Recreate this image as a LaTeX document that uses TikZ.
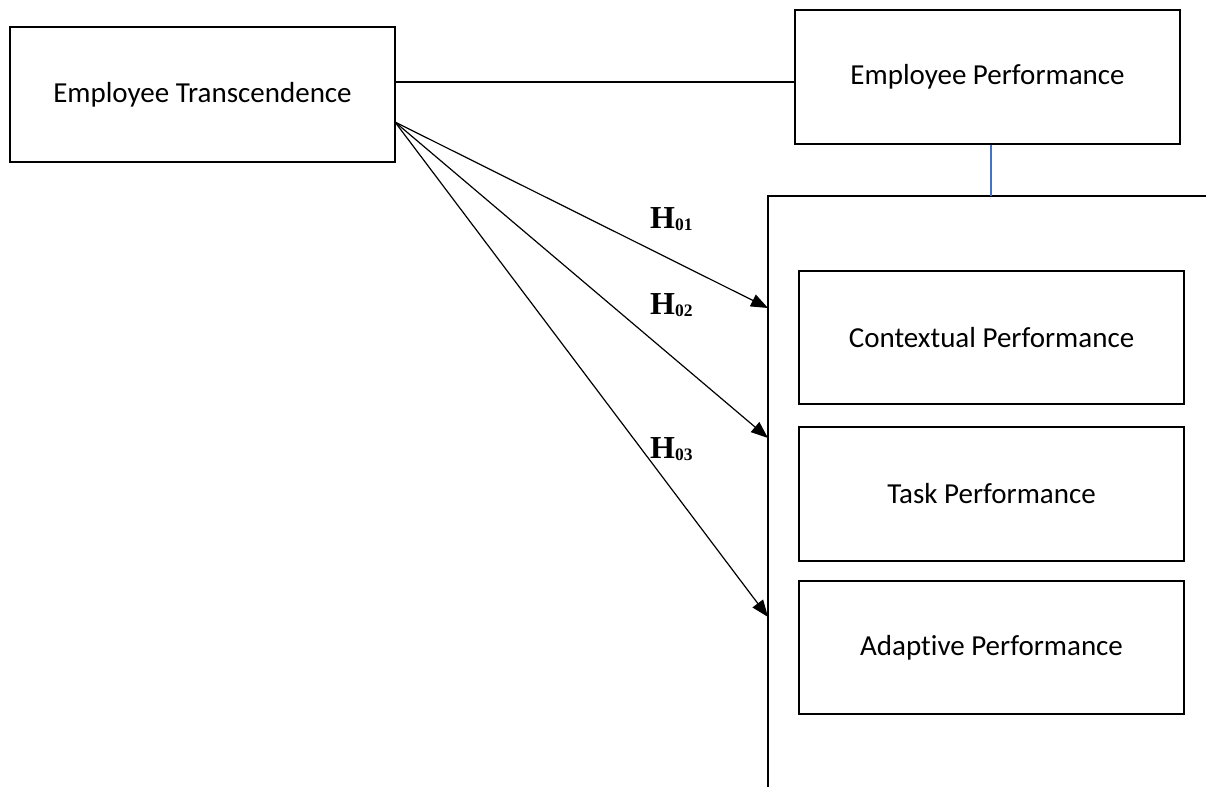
\documentclass[tikz,border=0pt]{standalone}
\usepackage{fontspec}
\setmainfont{Carlito}[Ligatures=NoCommon]
\newfontfamily\hfont{Liberation Serif}
\usetikzlibrary{arrows.meta}
\definecolor{linkblue}{HTML}{4472C4}
\begin{document}
\begin{tikzpicture}[x=1pt,y=-1pt,
  boxnode/.style={draw=black,line width=1.8pt,rectangle,inner sep=0pt,minimum width=385pt,
    font=\fontsize{29}{34}\selectfont},
  conn/.style={draw=black,line width=1.2pt},
  arr/.style={conn,-{Triangle[length=17pt,width=13pt]}},
  hlab/.style={anchor=base west,inner sep=0pt}
]
\useasboundingbox (0,0) rectangle (1206,787);
\node[boxnode,minimum height=135pt] (et) at (202.5,94.5) {Employee Transcendence};
\node[boxnode,minimum height=134pt] (ep) at (987.5,77) {Employee Performance};
\node[boxnode,minimum height=133pt] (cp) at (991.5,337.5) {Contextual Performance};
\node[boxnode,minimum height=134pt] (tp) at (991.5,494) {Task Performance};
\node[boxnode,minimum height=133pt] (ap) at (991.5,647.5) {Adaptive Performance};
% container
\coordinate (ctr) at (1206,196);
\coordinate (ctl) at (768,196);
\coordinate (cbl) at (768,787);
\draw[line width=1.8pt] (ctr) -- (ctl) -- (cbl);
% connectors
\coordinate (hl) at (395,82);
\draw[conn] (hl) -- (hl -| ep.west);
\coordinate (bl) at (991,196);
\draw[draw=linkblue,line width=1.2pt] (bl |- ep.south) -- (bl);
\coordinate (src) at (395,122);
\coordinate (t1) at (768,308);
\coordinate (t2) at (768,438);
\coordinate (t3) at (768,617);
\draw[arr] (src) -- (t1);
\draw[arr] (src) -- (t2);
\draw[arr] (src) -- (t3);
% labels
\newcommand{\hyp}[1]{{\hfont\bfseries\fontsize{32}{32}\selectfont H\raisebox{-2pt}{\fontsize{17.5}{17.5}\selectfont #1}}}
\node[hlab] (h1) at (650,228) {\hyp{01}};
\node[hlab] (h2) at (650,314) {\hyp{02}};
\node[hlab] (h3) at (650,458) {\hyp{03}};
\end{tikzpicture}
\end{document}
